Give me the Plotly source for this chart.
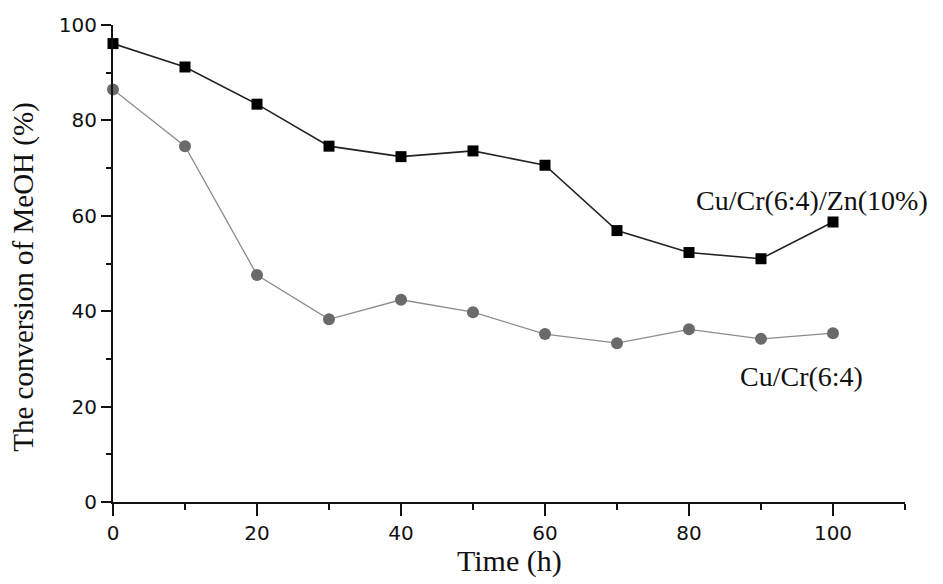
import plotly.graph_objects as go

time_h = [0, 10, 20, 30, 40, 50, 60, 70, 80, 90, 100]
cu_cr_zn = [96.1, 91.2, 83.4, 74.6, 72.4, 73.6, 70.6, 56.9, 52.3, 51.0, 58.7]
cu_cr = [86.5, 74.6, 47.6, 38.3, 42.4, 39.8, 35.2, 33.3, 36.2, 34.2, 35.4]

label_zn = "Cu/Cr(6:4)/Zn(10%)"
label_cr = "Cu/Cr(6:4)"
x_title = "Time (h)"
y_title = "The conversion of MeOH (%)"

serif = "Liberation Serif, Times New Roman, serif"
sans = "DejaVu Sans, Arial, sans-serif"

fig = go.Figure()
fig.add_trace(go.Scatter(
    x=time_h, y=cu_cr, mode="lines+markers", name=label_cr,
    line=dict(color="#8c8c8c", width=1.3),
    marker=dict(symbol="circle", size=12, color="#6a6a6a", line=dict(width=0)),
    cliponaxis=False,
))
fig.add_trace(go.Scatter(
    x=time_h, y=cu_cr_zn, mode="lines+markers", name=label_zn,
    line=dict(color="#222222", width=1.6),
    marker=dict(symbol="square", size=11, color="#000000", line=dict(width=0)),
    cliponaxis=False,
))

fig.add_annotation(x=97.1, y=63.3, xref="x", yref="y", text=label_zn,
                   showarrow=False, xanchor="center", yanchor="middle",
                   font=dict(family=serif, size=28, color="#111"))
fig.add_annotation(x=95.6, y=26.3, xref="x", yref="y", text=label_cr,
                   showarrow=False, xanchor="center", yanchor="middle",
                   font=dict(family=serif, size=28, color="#111"))

# axis titles as annotations for precise placement
fig.add_annotation(x=0.5, y=-0.124, xref="paper", yref="paper",
                   text=x_title, showarrow=False, xanchor="center", yanchor="middle",
                   font=dict(family=serif, size=30, color="#111"))
fig.add_annotation(x=-0.1125, y=0.472, xref="paper", yref="paper",
                   text=y_title, showarrow=False, textangle=-90,
                   xanchor="center", yanchor="middle",
                   font=dict(family=serif, size=29, color="#111"))

fig.update_layout(
    width=943, height=584,
    margin=dict(l=105, r=46, t=17, b=90),
    paper_bgcolor="white", plot_bgcolor="white",
    showlegend=False,
)
fig.update_xaxes(
    range=[0, 110], tickvals=[0, 20, 40, 60, 80, 100],
    ticks="outside", ticklen=12, tickwidth=2, tickcolor="#111",
    showline=True, linecolor="#111", linewidth=2,
    showgrid=False, zeroline=False, automargin=False,
    minor=dict(tickvals=[10, 30, 50, 70, 90, 110], ticks="outside", ticklen=6, tickwidth=2, tickcolor="#111", showgrid=False),
    tickfont=dict(family=sans, size=20, color="#111"),
)
fig.update_yaxes(
    range=[0, 100], tickvals=[0, 20, 40, 60, 80, 100],
    ticks="outside", ticklen=10, tickwidth=2, tickcolor="#111",
    showline=True, linecolor="#111", linewidth=2,
    showgrid=False, zeroline=False, automargin=False,
    minor=dict(tickvals=[10, 30, 50, 70, 90], ticks="outside", ticklen=5, tickwidth=2, tickcolor="#111", showgrid=False),
    tickfont=dict(family=sans, size=20, color="#111"),
)

fig.write_html("out.html")
